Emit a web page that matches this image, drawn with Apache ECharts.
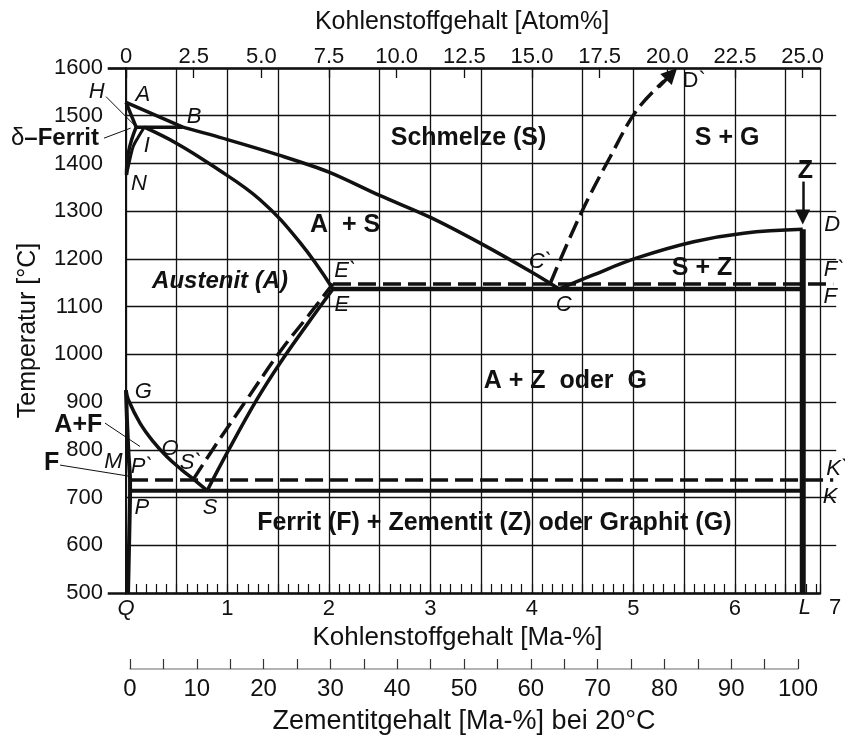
<!DOCTYPE html>
<html><head><meta charset="utf-8">
<script src="https://cdn.jsdelivr.net/npm/echarts@6/dist/echarts.min.js"></script>
<style>html,body{margin:0;padding:0;background:#fff}#c{width:845px;height:736px}</style>
</head><body><div id="c"></div>
<script>
// ---- data: carbon content [wt-%], temperature [°C] ----
const wtMax = 6.84;                 // right edge of diagram (wt-%)
const atMax = 25.64;                // same edge in atom-%
const tempTicks = [500, 1600, 100]; // min, max, step
const cementiteRange = [0, 100, 5];
const gridOverhang = [6.84, 7.0];   // horizontal grid lines run a little past the frame

const liquidusAB = [[0,1528],[0.56,1476]];
const liquidusBC = [[0.56,1476],[1.0,1450],[1.5,1418],[2.0,1382],[2.5,1333],[3.0,1287],[3.5,1232],[4.0,1172],[4.27,1137]];
const solidusAH  = [[0,1528],[0.1,1476]];
const peritectHB = [[0.1,1476],[0.56,1476]];
const lineHN     = [[0.1,1476],[0.056,1450],[0.023,1422],[0.007,1394],[0.005,1376]];
const lineIN     = [[0.18,1476],[0.12,1455],[0.072,1436],[0.04,1410],[0.017,1388],[0.005,1376]];
const solidusIE  = [[0.18,1476],[0.5,1442],[0.861,1394],[1.321,1324],[1.716,1234],[2.04,1137]];
const eutecticEF = [[2.04,1137],[6.67,1137]];
const eutecticEFstable = [[2.04,1148],[6.97,1148]];
const liquidusCD = [[4.27,1137],[4.6,1166],[5.036,1202],[5.595,1236],[6.088,1254],[6.67,1262]];
const cementiteL = [[6.67,500],[6.67,1262]];
const lineGS     = [[0,925],[0.023,905],[0.138,856],[0.269,817],[0.401,786],[0.549,758],[0.697,733],[0.8,714.5]];
const lineGPQ    = [[0,925],[0.01,860],[0.025,790],[0.04,737],[0.04,714.5],[0.03,600],[0.02,500]];
const lineSE     = [[0.8,714.5],[1.0,795],[1.289,905],[1.519,982],[1.8,1067],[2.04,1137]];
const lineSEstable = [[0.66,737],[0.9,815],[1.19,905],[1.519,1006],[1.8,1082],[2.04,1148]];
const eutectoidPSK = [[0.04,714.5],[6.67,714.5]];
const eutectoidPSKstable = [[0.04,737],[6.97,737]];
const lineCDstable = [[4.18,1148],[4.477,1292],[4.773,1414],[5.036,1512],[5.30,1572]];
const arrowD = [[5.25,1560],[5.377,1588]];
const arrowZ = [[6.67,1362],[6.67,1288]];
const leaderH = [[-0.197,1540],[0.089,1479]];
const leaderDelta = [[-0.217,1453],[0.046,1474]];
const leaderAF = [[-0.207,856],[0.138,807]];
const leaderF = [[-0.65,768],[0.023,745]];
const edgeTop = [[-0.18,1600],[0,1600]];
const edgeBottom = [[-0.18,500],[0,500]];

// point labels (italic), region labels (bold), plain labels
const pointLabels = [
  ['H',-0.289,1549],['A',0.165,1544],['B',0.671,1498],['I',0.204,1436],['N',0.128,1357],
  ['G',0.171,922],['E`',2.16,1174],['E',2.127,1104],['C`',4.083,1194],['C',4.313,1104],
  ['D',6.96,1271],['F`',6.98,1177],['F',6.94,1121],['M',-0.125,775],['O',0.434,801],
  ['P`',0.155,765],['S`',0.639,772],['P',0.155,678],['S',0.828,678],['K`',7.01,761],
  ['K',6.94,702],['L',6.69,468]
];
const regionLabels = [
  ['Schmelze (S)',3.376,1453],['S + G',5.924,1453],['Z',6.696,1383],['A  + S',2.16,1271],
  ['A + Z  oder  G',4.33,943],['S + Z',5.677,1181],['A+F',-0.47,852],['F',-0.733,772],
  ['Ferrit (F) + Zementit (Z) oder Graphit (G)',3.63,646]
];
const italicBoldLabels = [['Austenit (A)',0.927,1153]];
const plainLabels = [['D`',5.6,1572],['7',6.99,468]];
const deltaLabel = [['δ–Ferrit',-0.70,1453]];

// ---- chart ----
const FF = '"Liberation Sans", Arial, sans-serif';
const INK = '#111111';
function ln(data, extra) {
  return Object.assign({type:'line', data, symbol:'none', silent:true, animation:false,
    lineStyle:{color:INK, width:3.5}, z:5, xAxisIndex:0, yAxisIndex:0}, extra || {});
}
function dashed(data, extra) {
  return ln(data, Object.assign({lineStyle:{color:INK, width:3.5, type:[18,7]}}, extra||{}));
}
// straight segments drawn without clipping (may leave the frame)
function segs(list, style) {
  return {type:'lines', coordinateSystem:'cartesian2d', xAxisIndex:0, yAxisIndex:0, polyline:false,
    silent:true, clip:false, animation:false, z:6, symbol:'none',
    lineStyle:Object.assign({color:INK, width:1, opacity:1, curveness:0}, style),
    data:list.map(c => ({coords:c}))};
}
function labels(arr, style, extra) {
  return Object.assign({type:'scatter', xAxisIndex:0, yAxisIndex:0, symbolSize:0, clip:false, silent:true,
    itemStyle:{color:INK, opacity:1}, z:10, animation:false,
    emphasis:{disabled:true},
    data: arr.map(d => ({name:d[0], value:[d[1], d[2]]})),
    label: Object.assign({show:true, position:[0,0], align:'center', verticalAlign:'middle',
      formatter:'{b}', color:INK, opacity:1, fontFamily:FF, textBorderWidth:0}, style)}, extra || {});
}
function arrow(data, w, size) {
  return {type:'lines', coordinateSystem:'cartesian2d', xAxisIndex:0, yAxisIndex:0, polyline:false,
    silent:true, clip:false, animation:false, z:6,
    symbol:['none','triangle'], symbolSize:size,
    lineStyle:{color:INK, width:w, opacity:1, curveness:0},
    data:[{coords:data}]};
}
const overhangSegs = [];
for (let t = tempTicks[0] + tempTicks[2]; t < tempTicks[1]; t += tempTicks[2]) {
  overhangSegs.push([[gridOverhang[0], t], [gridOverhang[1], t]]);
}

const chart = echarts.init(document.getElementById('c'), null, {renderer:'canvas'});
chart.setOption({
  animation:false,
  backgroundColor:'#fff',
  textStyle:{fontFamily:FF},
  grid:[
    {left:126, top:68, right:25, bottom:143},
    {left:130, right:47, top:660, height:11}
  ],
  xAxis:[
    { gridIndex:0, type:'value', min:0, max:wtMax, interval:0.5, position:'bottom',
      axisLine:{show:true, lineStyle:{color:INK, width:2.5}},
      axisTick:{show:true, inside:true, length:9, lineStyle:{color:INK, width:1.2}},
      minorTick:{show:true, splitNumber:5, length:9, lineStyle:{color:INK, width:1.2}},
      splitLine:{show:true, lineStyle:{color:INK, width:1.3}},
      axisLabel:{fontSize:22, color:INK, margin:5, fontFamily:FF, showMaxLabel:false,
        formatter: v => (Math.abs(v - Math.round(v)) < 1e-6 && v < 6.8) ? (v === 0 ? '{i|Q}' : String(Math.round(v))) : '',
        rich:{i:{fontStyle:'italic', fontSize:22, color:INK, fontFamily:FF}}},
      name:'Kohlenstoffgehalt [Ma-%]', nameLocation:'middle', nameGap:31,
      nameTextStyle:{fontSize:26, color:INK, fontFamily:FF, padding:[0,31,0,0]}
    },
    { gridIndex:0, type:'value', min:0, max:atMax, interval:2.5, position:'top',
      axisLine:{show:true, lineStyle:{color:INK, width:2.7}},
      axisTick:{show:true, inside:true, length:10, lineStyle:{color:INK, width:1.3}},
      splitLine:{show:false},
      axisLabel:{fontSize:22, color:INK, margin:0, fontFamily:FF, showMaxLabel:false,
        formatter: v => (v > 25.1 ? '' : (v === 0 ? '0' : v.toFixed(1)))},
      name:'Kohlenstoffgehalt [Atom%]', nameLocation:'middle', nameGap:33,
      nameTextStyle:{fontSize:25, color:INK, fontFamily:FF, padding:[0,22,0,0]}
    },
    { gridIndex:1, type:'value', min:cementiteRange[0], max:cementiteRange[1], interval:cementiteRange[2], position:'bottom',
      axisLine:{show:true, lineStyle:{color:'#9a9a9a', width:1.5}},
      axisTick:{show:true, inside:true, length:10, lineStyle:{color:'#333', width:1.2}},
      splitLine:{show:false},
      axisLabel:{fontSize:24, color:INK, margin:8, fontFamily:FF,
        formatter: v => (v % 10 === 0 ? String(v) : '')},
      name:'Zementitgehalt [Ma-%] bei 20°C', nameLocation:'middle', nameGap:39,
      nameTextStyle:{fontSize:27, color:INK, fontFamily:FF}
    }
  ],
  yAxis:[
    { gridIndex:0, type:'value', min:tempTicks[0], max:tempTicks[1], interval:tempTicks[2],
      axisLine:{show:false}, axisTick:{show:false},
      splitLine:{show:true, lineStyle:{color:INK, width:1.3}},
      axisLabel:{fontSize:22, color:INK, margin:23, fontFamily:FF, formatter: v => String(v)},
      name:'Temperatur [°C]', nameLocation:'middle', nameGap:85,
      nameTextStyle:{fontSize:25, color:INK, fontFamily:FF}
    },
    { gridIndex:0, type:'value', min:tempTicks[0], max:tempTicks[1], position:'right',
      axisLine:{show:true, lineStyle:{color:INK, width:2}}, axisTick:{show:false},
      axisLabel:{show:false}, splitLine:{show:false}
    },
    { gridIndex:1, type:'value', show:false, min:0, max:1 }
  ],
  series:[
    ln(liquidusAB),
    ln(liquidusBC, {smooth:0.3}),
    ln(solidusAH),
    ln(peritectHB),
    ln(lineHN, {smooth:0.4}),
    ln(lineIN, {smooth:0.4, lineStyle:{color:INK, width:3}}),
    ln(solidusIE, {smooth:0.4}),
    ln(eutecticEF, {lineStyle:{color:INK, width:4.5}}),
    segs([eutecticEFstable, eutectoidPSKstable], {width:3.5, type:[18,7]}),
    ln(liquidusCD, {smooth:0.4}),
    ln(cementiteL, {lineStyle:{color:INK, width:6}}),
    ln(lineGS, {smooth:0.4}),
    ln(lineGPQ, {smooth:0.2, lineStyle:{color:INK, width:4}}),
    ln(lineSE, {smooth:0.4}),
    dashed(lineSEstable, {smooth:0.4}),
    ln(eutectoidPSK, {lineStyle:{color:INK, width:4}}),
    dashed(lineCDstable, {smooth:0.4}),
    arrow(arrowD, 3.5, 16),
    arrow(arrowZ, 2.5, 15),
    segs([leaderH, leaderDelta, leaderAF, leaderF], {width:1}),
    segs([edgeTop], {width:2.7}),
    segs([edgeBottom], {width:2.5}),
    segs(overhangSegs, {width:1.3}),
    labels(pointLabels, {fontSize:22, fontStyle:'italic'}),
    labels(regionLabels, {fontSize:25, fontWeight:'bold'}),
    labels(italicBoldLabels, {fontSize:24, fontWeight:'bold', fontStyle:'italic'}),
    labels(plainLabels, {fontSize:22}),
    labels(deltaLabel, {fontSize:24, formatter: p => '{n|δ}{b|–Ferrit}',
      rich:{n:{fontSize:24, color:INK, fontFamily:FF}, b:{fontSize:24, fontWeight:'bold', color:INK, fontFamily:FF}}})
  ]
});
</script>
</body></html>
